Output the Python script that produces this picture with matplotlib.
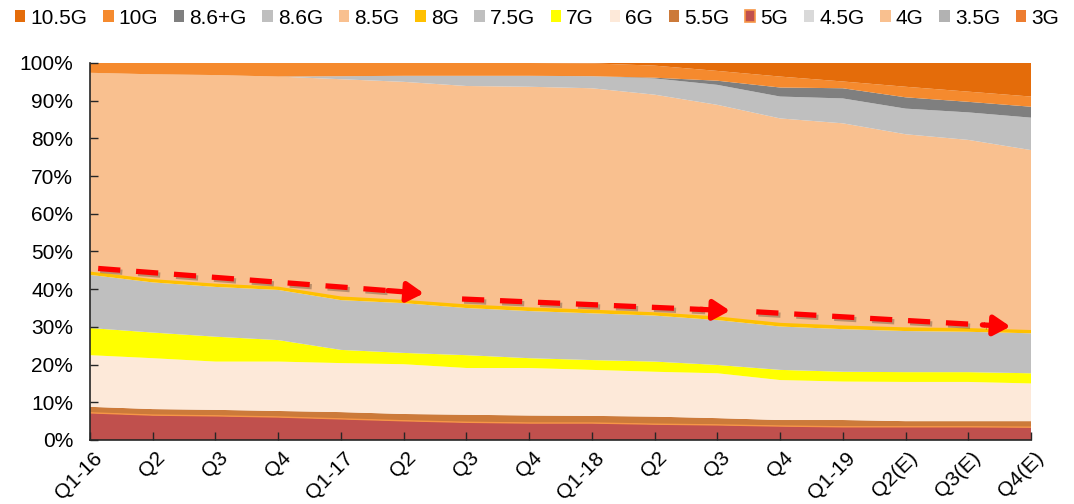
import matplotlib
matplotlib.use("Agg")
import matplotlib.pyplot as plt
from matplotlib.patches import Patch
import matplotlib.patheffects as pe
import matplotlib.transforms as mtransforms
import numpy as np

plt.rcParams['font.family'] = ['Liberation Sans', 'DejaVu Sans']

quarters = ['Q1-16', 'Q2', 'Q3', 'Q4', 'Q1-17', 'Q2', 'Q3', 'Q4',
            'Q1-18', 'Q2', 'Q3', 'Q4', 'Q1-19', 'Q2(E)', 'Q3(E)', 'Q4(E)']

# share of capacity by fab generation, % (bottom of the stack first)
g3 = [0] * 16
g35 = [0] * 16
g4 = [0] * 16
g45 = [0] * 16
g5 = [7.2, 6.6, 6.4, 6.1, 5.6, 5.1, 4.7, 4.5, 4.5, 4.2, 4.0, 3.7, 3.5, 3.5, 3.5, 3.4]
g55 = [1.6, 1.6, 1.6, 1.6, 1.8, 1.8, 2.0, 2.0, 1.9, 2.0, 1.8, 1.6, 1.8, 1.5, 1.5, 1.6]
g6 = [13.7, 13.5, 12.8, 13.1, 13.0, 13.2, 12.4, 12.6, 12.2, 11.9, 11.9, 10.6, 10.2, 10.4, 10.4, 10.0]
g7 = [7.2, 6.8, 6.6, 5.7, 3.5, 3.0, 3.4, 2.6, 2.6, 2.7, 2.2, 2.7, 2.6, 2.6, 2.6, 2.7]
g75 = [14.1, 13.3, 13.2, 13.3, 13.2, 13.2, 12.5, 12.5, 12.4, 12.2, 11.9, 11.5, 11.3, 10.9, 10.7, 10.6]
g8 = [0.6, 0.6, 0.6, 0.6, 0.7, 0.6, 0.7, 0.7, 0.7, 0.6, 0.7, 0.7, 0.7, 0.7, 0.7, 0.6]
g85 = [53.0, 54.6, 55.6, 56.0, 57.9, 58.1, 58.2, 58.8, 59.0, 58.0, 56.4, 54.5, 53.9, 51.5, 50.2, 48.0]
g86 = [0, 0, 0, 0, 0.8, 1.6, 2.7, 2.9, 3.2, 4.3, 5.3, 5.8, 6.6, 6.8, 7.3, 8.6]
g86p = [0, 0, 0, 0, 0, 0, 0, 0, 0, 0.2, 1.1, 2.4, 2.7, 3.0, 2.8, 2.9]
g10 = [2.6, 3.0, 3.2, 3.6, 3.5, 3.4, 3.4, 3.4, 3.4, 3.2, 2.6, 2.9, 1.8, 2.8, 2.7, 2.7]
g105 = [0, 0, 0, 0, 0, 0, 0, 0, 0.1, 0.7, 2.1, 3.6, 4.9, 6.3, 7.6, 8.9]

names = ['3G', '3.5G', '4G', '4.5G', '5G', '5.5G', '6G', '7G', '7.5G',
         '8G', '8.5G', '8.6G', '8.6+G', '10G', '10.5G']
series = [g3, g35, g4, g45, g5, g55, g6, g7, g75, g8, g85, g86, g86p, g10, g105]
colors = ['#ED7D31', '#B2B2B2', '#F9C08F', '#D9D9D9', '#C0504D', '#CC7A3A',
          '#FDE9D9', '#FFFF00', '#BFBFBF', '#FFC000', '#F9C08F', '#BFBFBF',
          '#7F7F7F', '#F58A2E', '#E46C0A']

# trend arrows (start, tip) in data coords
arrows = [((0.13, 45.5), (5.32, 38.9)),
          ((5.93, 37.4), (10.20, 34.3)),
          ((10.62, 34.0), (14.67, 30.1))]

fig = plt.figure(figsize=(10.74, 5.04), dpi=100)
ax = fig.add_axes([0.0838, 0.127, 0.8762, 0.748])

x = np.arange(len(quarters))
ax.stackplot(x, *series, colors=colors, linewidth=0)

# thin edge lines on the 5G and 8G layers
cum = np.cumsum(np.array(series), axis=0)
ax.plot(x, cum[4], color='#F79646', lw=1.0)
ax.plot(x, cum[9], color='#FFC000', lw=1.5)

for (x0, y0), (x1, y1) in arrows:
    f = 0.9
    xm, ym = x0 + (x1 - x0) * f, y0 + (y1 - y0) * f
    shadow = [pe.SimpleLineShadow(offset=(1.5, -1.5), alpha=0.25), pe.Normal()]
    ax.plot([x0, xm], [y0, ym], color='#FF0000', lw=3.8, dashes=(4.2, 3.0),
            solid_capstyle='butt', dash_capstyle='butt', path_effects=shadow, zorder=5)
    ax.annotate('', xy=(x1, y1), xytext=(xm - (x1 - x0) * 0.01, ym - (y1 - y0) * 0.01),
                arrowprops=dict(arrowstyle='-|>,head_length=1.0,head_width=0.6',
                                color='#FF0000', lw=3.8, shrinkA=0, shrinkB=0),
                zorder=6)

ax.set_xlim(0, len(quarters) - 1)
ax.set_ylim(0, 100)
ax.set_yticks(np.arange(0, 101, 10))
ax.set_yticklabels([f'{v}%' for v in range(0, 101, 10)])
ax.set_xticks(x)
ax.set_xticklabels(quarters, rotation=45, ha='right', rotation_mode='anchor')
ax.tick_params(axis='both', direction='in', length=6, width=1, color='#262626',
               labelsize=15, colors='#000000')
ax.tick_params(axis='y', pad=12)
ax.tick_params(axis='x', pad=6)
shift = mtransforms.ScaledTranslation(2 / 72, 0, fig.dpi_scale_trans)
for lab in ax.get_xticklabels():
    lab.set_transform(lab.get_transform() + shift)
for s in ['top', 'right']:
    ax.spines[s].set_visible(False)
for s in ['left', 'bottom']:
    ax.spines[s].set_color('#262626')
    ax.spines[s].set_linewidth(1.2)
    ax.spines[s].set_zorder(7)

handles = [Patch(facecolor=c, edgecolor=('#F79646' if n == '5G' else c), lw=1.2 if n == '5G' else 0)
           for n, c in zip(names, colors)][::-1]
fig.legend(handles, names[::-1], loc='center', bbox_to_anchor=(0.5, 0.964), ncol=15,
           frameon=False, fontsize=15, handlelength=0.5, handleheight=0.5,
           handletextpad=0.25, columnspacing=0.75, borderaxespad=0)

fig.savefig('out.png', dpi=100)
